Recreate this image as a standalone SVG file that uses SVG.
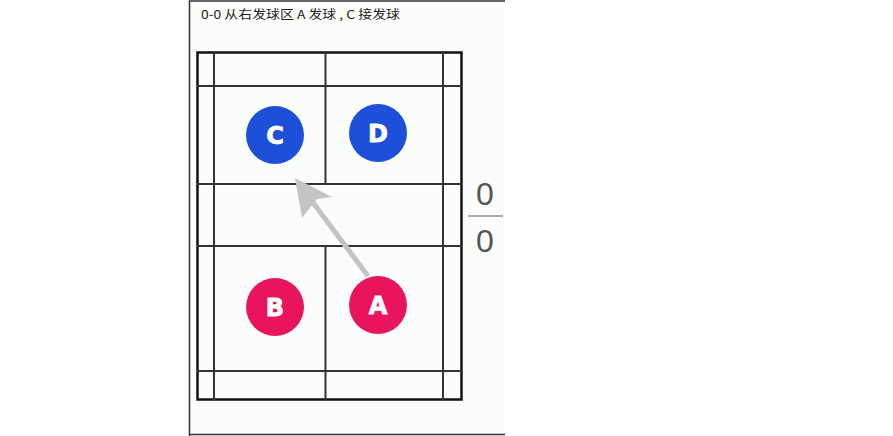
<svg xmlns="http://www.w3.org/2000/svg" width="893" height="436" viewBox="0 0 893 436">
<style>
.ln{stroke:#333;stroke-width:2;fill:none}
.out{stroke:#111;stroke-width:2.5;fill:none}
.pl text{font-family:"DejaVu Sans","Liberation Sans",Arial,sans-serif;font-weight:bold;font-size:24px;fill:#fff;text-anchor:middle;stroke:#fff;stroke-width:0.8}
.score{font-family:"Liberation Sans",Arial,sans-serif;font-size:32px;fill:#555;text-anchor:middle}
</style>
<rect width="893" height="436" fill="#fff"/>
<rect x="189" y="0" width="316" height="435" fill="#fbfdfb"/>
<path d="M189.5,436 V1 H505 M189,434.5 H505" stroke="#333" stroke-width="1.5" fill="none"/>
<text x="201" y="19" font-family="Noto Sans CJK SC, sans-serif" font-size="12" fill="#222" textLength="199" lengthAdjust="spacingAndGlyphs">0-0 从右发球区 A 发球 , C 接发球</text>
<g id="court">
<rect class="out" x="197.5" y="52.5" width="264" height="347"/>
<line class="ln" x1="214" y1="52" x2="214" y2="400"/>
<line class="ln" x1="443" y1="52" x2="443" y2="400"/>
<line class="ln" x1="197" y1="86" x2="462" y2="86"/>
<line class="ln" x1="197" y1="371" x2="462" y2="371"/>
<line class="ln" x1="197" y1="184" x2="462" y2="184"/>
<line class="ln" x1="197" y1="246" x2="462" y2="246"/>
<line class="ln" x1="325.5" y1="52" x2="325.5" y2="184"/>
<line class="ln" x1="325.5" y1="246" x2="325.5" y2="400"/>
</g>
<g id="connectors">
<line x1="368" y1="276" x2="305" y2="192" stroke="#c4c4c4" stroke-width="5"/>
<polygon points="295,178 332,197 317,199 302,218" fill="#c4c4c4"/>
</g>
<g id="C" class="pl"><circle cx="275" cy="135" r="29" fill="#1d4fd8"/><text x="275" y="144">C</text></g>
<g id="D" class="pl"><circle cx="378" cy="133" r="29" fill="#1d4fd8"/><text x="378" y="142">D</text></g>
<g id="B" class="pl"><circle cx="275" cy="307" r="29" fill="#e8145e"/><text x="275" y="316">B</text></g>
<g id="A" class="pl"><circle cx="378" cy="305" r="29" fill="#e8145e"/><text x="378" y="314">A</text></g>
<g id="score">
<text class="score" x="485" y="205">0</text>
<line x1="468" y1="216" x2="503" y2="216" stroke="#aaa" stroke-width="2"/>
<text class="score" x="485" y="252">0</text>
</g>
</svg>
